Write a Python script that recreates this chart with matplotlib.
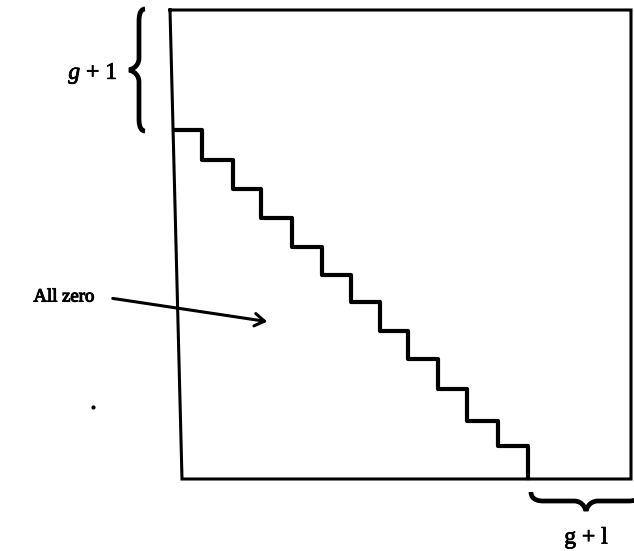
#!/usr/bin/env python3

import numpy as np
from matplotlib import pyplot as plt
from matplotlib.path import Path
from matplotlib.patches import PathPatch
import matplotlib.patheffects as pe

# staircase corners (picture pixels, y down)
step_x = [174, 202, 233, 261, 292, 322, 351, 380, 408, 438, 467, 498, 528]
step_y = [130, 160, 189, 218, 247, 275, 302, 331, 359, 389, 421, 446, 478]

# box corners
box_x = [170, 631, 631, 182, 170]
box_y = [10, 10, 479, 479, 10]

label_left = "$g$ + 1"
label_bottom = "g + l"
label_zero = "All zero"

plt.rcParams['font.family'] = ['Liberation Serif', 'DejaVu Serif']
plt.rcParams['mathtext.fontset'] = 'custom'
plt.rcParams['mathtext.it'] = 'Liberation Serif:italic'

fig = plt.figure(figsize=(6.34, 5.51), dpi=100)
ax = fig.add_axes([0, 0, 1, 1])
ax.set_xlim(0, 634)
ax.set_ylim(551, 0)
ax.axis('off')

ax.plot(box_x, box_y, color='black', lw=2.2, solid_joinstyle='miter')

# staircase
sx, sy = [step_x[0]], [step_y[0]]
for i in range(1, len(step_x)):
    sx += [step_x[i], step_x[i]]
    sy += [step_y[i - 1], step_y[i]]
ax.plot(sx, sy, color='black', lw=3.0, solid_joinstyle='round')


def brace_v(xs, y0, y1, depth, curl):
    # vertical brace, tip pointing left
    ym = (y0 + y1) / 2
    verts = [(xs + curl, y0), (xs, y0), (xs, y0 + 10), (xs, y0 + 12),
             (xs, ym - 12),
             (xs, ym - 2), (xs - depth, ym), (xs - depth, ym),
             (xs - depth, ym), (xs, ym + 2), (xs, ym + 12),
             (xs, y1 - 12),
             (xs, y1 - 10), (xs, y1), (xs + curl, y1)]
    codes = [Path.MOVETO, Path.CURVE4, Path.CURVE4, Path.LINETO, Path.LINETO,
             Path.CURVE4, Path.CURVE4, Path.CURVE4,
             Path.CURVE4, Path.CURVE4, Path.CURVE4,
             Path.LINETO,
             Path.CURVE4, Path.CURVE4, Path.CURVE4]
    return Path(verts, codes)


def brace_h(x0, x1, ys, depth, curl):
    # horizontal brace, tip pointing down
    xm = (x0 + x1) / 2
    verts = [(x0, ys - curl), (x0, ys), (x0 + 10, ys), (x0 + 12, ys),
             (xm - 12, ys),
             (xm - 2, ys), (xm, ys + depth), (xm, ys + depth),
             (xm, ys + depth), (xm + 2, ys), (xm + 12, ys),
             (x1 - 12, ys),
             (x1 - 10, ys), (x1, ys), (x1, ys - curl)]
    codes = [Path.MOVETO, Path.CURVE4, Path.CURVE4, Path.LINETO, Path.LINETO,
             Path.CURVE4, Path.CURVE4, Path.CURVE4,
             Path.CURVE4, Path.CURVE4, Path.CURVE4,
             Path.LINETO,
             Path.CURVE4, Path.CURVE4, Path.CURVE4]
    return Path(verts, codes)


ax.add_patch(PathPatch(brace_v(139, 9, 131, 10, 6), fill=False, lw=3.4, color='black'))
ax.add_patch(PathPatch(brace_h(531, 641, 501, 10, 9), fill=False, lw=3.4, color='black'))

thick = [pe.withStroke(linewidth=0.6, foreground='black')]
ax.text(93, 74, label_left, fontsize=17, ha='center', va='center', path_effects=thick)
ax.text(586, 538, label_bottom, fontsize=17, ha='center', va='center', path_effects=thick)
ax.text(64, 297, label_zero, fontsize=13.5, ha='center', va='center',
        path_effects=[pe.withStroke(linewidth=0.8, foreground='black')])

ax.annotate('', xy=(270, 322), xytext=(110, 298),
            arrowprops=dict(arrowstyle='->,head_length=0.7,head_width=0.45',
                            lw=2.2, color='black'))

# speck
ax.plot([93], [407], marker='o', ms=2, color='black')

fig.savefig('out.png', dpi=100)
